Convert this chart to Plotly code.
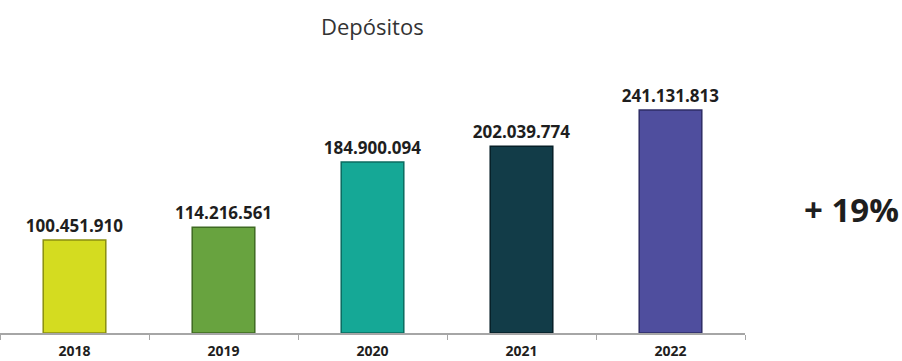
import plotly.graph_objects as go

years = ["2018", "2019", "2020", "2021", "2022"]
depositos = [100451910, 114216561, 184900094, 202039774, 241131813]
bar_colors = ["#D4DC20", "#68A33F", "#15A896", "#123C48", "#4F4E9E"]
edge_colors = ["#8A8F10", "#3F6A22", "#0B6B60", "#061F27", "#2E2D66"]
growth_label = "+ 19%"
title_text = "Depósitos"


def fmt_thousands(v):
    return f"{v:,}".replace(",", ".")


labels = [fmt_thousands(v) for v in depositos]

fig = go.Figure(
    go.Bar(
        x=years,
        y=depositos,
        width=0.42,
        marker=dict(color=bar_colors, line=dict(color=edge_colors, width=1.5)),
        text=labels,
        textposition="outside",
        constraintext="none",
        textfont=dict(family="Open Sans", size=17, color="#1E1E1E", weight="bold"),
        cliponaxis=False,
        hoverinfo="skip",
    )
)

fig.update_layout(
    width=902,
    height=361,
    margin=dict(l=0, r=157, t=56, b=28),
    paper_bgcolor="white",
    plot_bgcolor="white",
    showlegend=False,
    bargap=0.58,
    xaxis=dict(
        type="category",
        showline=True,
        linecolor="#A6A6A6",
        linewidth=2,
        ticks="outside",
        tickson="boundaries",
        ticklen=5,
        tickcolor="#A6A6A6",
        showgrid=False,
        ticklabelstandoff=4,
        tickfont=dict(family="Open Sans", size=14, color="#1E1E1E", weight="bold"),
    ),
    yaxis=dict(
        range=[0, 299.5e6],
        visible=False,
        showgrid=False,
        zeroline=False,
    ),
    annotations=[
        dict(
            text=title_text,
            xref="paper", yref="paper",
            x=372 / 745, y=1,
            yshift=30,
            xanchor="center", yanchor="middle",
            showarrow=False,
            font=dict(family="Open Sans", size=22, color="#333333"),
        ),
        dict(
            text=growth_label,
            xref="paper", yref="paper",
            x=851 / 745, y=(333 - 209) / 277,
            xanchor="center", yanchor="middle",
            showarrow=False,
            font=dict(family="Open Sans", size=33, color="#1E1E1E", weight="bold"),
        ),
    ],
)

fig.write_html("out.html")
